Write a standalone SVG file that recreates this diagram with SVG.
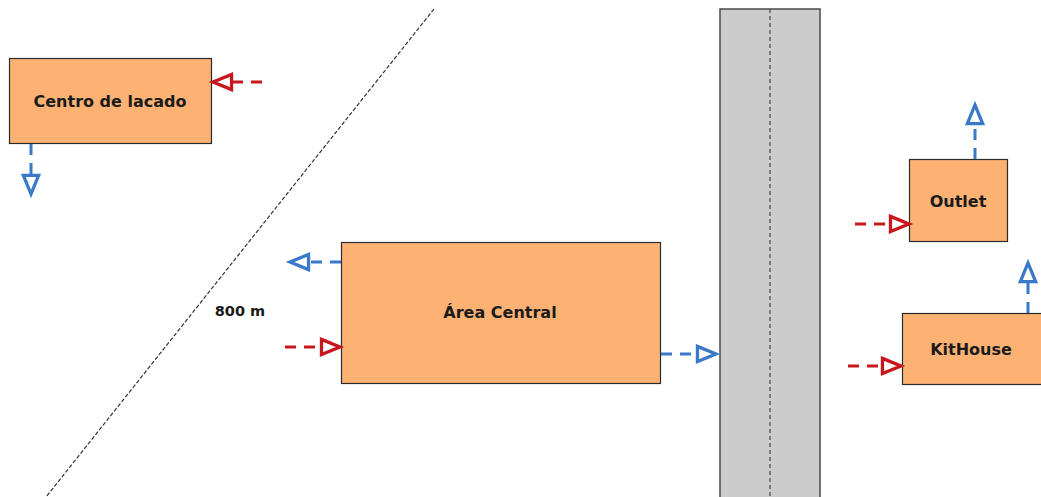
<svg xmlns="http://www.w3.org/2000/svg" width="1041" height="497" viewBox="0 0 1041 497">
<style>
.box{fill:#fdb274;stroke:#2b2b2b;stroke-width:1.2}
.lbl{font-family:"DejaVu Sans",Verdana,sans-serif;font-weight:bold;font-size:16px;fill:#1a1a1a;text-anchor:middle;dominant-baseline:central}
.red{stroke:#c8161d;stroke-width:3;stroke-dasharray:11,8;fill:none}
.blue{stroke:#3a78c8;stroke-width:3;stroke-dasharray:11,8;fill:none}
</style>
<defs>
<marker id="ar" markerUnits="userSpaceOnUse" markerWidth="24" markerHeight="20" viewBox="-2 -2 22 18" refX="17" refY="7" orient="auto" overflow="visible">
<path d="M0,0 L17,7 L0,14 Z" fill="#fff" stroke="#c8161d" stroke-width="3" stroke-linejoin="miter"/>
</marker>
<marker id="ab" markerUnits="userSpaceOnUse" markerWidth="24" markerHeight="20" viewBox="-2 -2 22 18" refX="17" refY="7" orient="auto" overflow="visible">
<path d="M0,0 L17,7 L0,14 Z" fill="#fff" stroke="#3a78c8" stroke-width="3" stroke-linejoin="miter"/>
</marker>
</defs>
<rect width="1041" height="497" fill="#fff"/>
<g id="road">
<rect x="720" y="9" width="100" height="490" fill="#cccccc" stroke="#4a4a4a" stroke-width="1.5"/>
<line x1="770" y1="9" x2="770" y2="497" stroke="#444" stroke-width="1.2" stroke-dasharray="4,3"/>
</g>
<g id="boundary">
<line x1="434" y1="9" x2="46" y2="497" stroke="#333" stroke-width="1.2" stroke-dasharray="4,2"/>
<text x="240" y="311" class="lbl" style="font-size:14.5px">800 m</text>
</g>
<g id="centro">
<rect class="box" x="9.5" y="58.5" width="202" height="85"/>
<text class="lbl" x="110" y="101">Centro de lacado</text>
</g>
<g id="area-central">
<rect class="box" x="341.5" y="242.5" width="319" height="141"/>
<text class="lbl" x="500" y="312">Área Central</text>
</g>
<g id="outlet">
<rect class="box" x="909.5" y="159.5" width="98" height="82"/>
<text class="lbl" x="958" y="201">Outlet</text>
</g>
<g id="kithouse">
<rect class="box" x="902.5" y="313.5" width="140" height="71"/>
<text class="lbl" x="971" y="349">KitHouse</text>
</g>
<g id="connectors">
<path class="red" d="M262,82 L213,82" marker-end="url(#ar)"/>
<path class="blue" d="M31,144 L31,194" marker-end="url(#ab)"/>
<path class="blue" d="M341,262 L290,262" marker-end="url(#ab)"/>
<path class="red" d="M285,347 L340,347" marker-end="url(#ar)"/>
<path class="blue" d="M661,354 L716,354" marker-end="url(#ab)"/>
<path class="blue" d="M975,159 L975,105" marker-end="url(#ab)"/>
<path class="red" d="M855,224 L909,224" marker-end="url(#ar)"/>
<path class="blue" d="M1028,313 L1028,263" marker-end="url(#ab)"/>
<path class="red" d="M848,366 L901,366" marker-end="url(#ar)"/>
</g>
</svg>
